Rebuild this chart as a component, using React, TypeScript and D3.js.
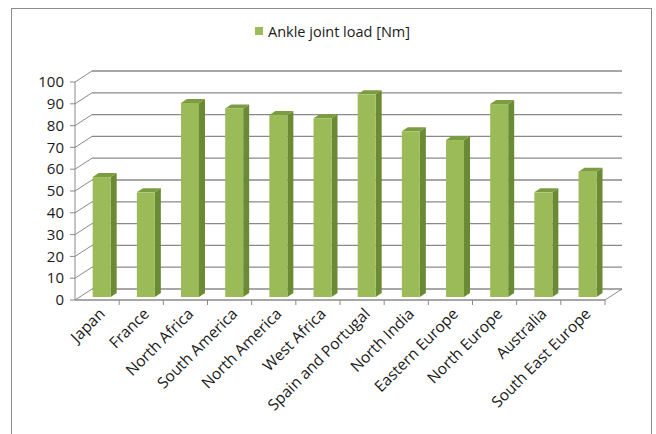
import React from "react";
import * as d3 from "d3";

const categories = [
  "Japan", "France", "North Africa", "South America", "North America", "West Africa",
  "Spain and Portugal", "North India", "Eastern Europe", "North Europe", "Australia", "South East Europe",
];
const values = [55, 48, 89, 86.5, 83.5, 82, 93, 76, 72, 88.5, 48, 57.5];
const yTicks = [0, 10, 20, 30, 40, 50, 60, 70, 80, 90, 100];
const seriesName = "Ankle joint load [Nm]";

const W = 656, H = 434;
const FONT = "'Open Sans', 'Liberation Sans', sans-serif";
const DX = 17, DY = -11; // depth projection of the plot
const BDX = 6, BDY = -4; // bar depth
const SHX = 4.6, SHY = -3; // bar placement depth shift
const BAR_W = 18;

export default function App() {
  const x = d3.scaleBand<string>().domain(categories).range([75, 605]).paddingInner(0).paddingOuter(0);
  const y = d3.scaleLinear().domain([0, 100]).range([300, 82]);
  const x0 = 75, x1 = 605, y0 = y(0);
  const grid = "#8a8a8a";

  return (
    <svg width={W} height={H} style={{ position: "fixed", left: 0, top: 0, background: "#fff" }}>
      <rect x={11.5} y={8.5} width={640} height={440} fill="#fff" stroke="#8c8c8c" strokeWidth={1} />
      {/* legend */}
      <rect x={255} y={27} width={8} height={8} fill="#9bbb59" />
      <text x={268} y={36.5} fontFamily={FONT} fontSize={14.5} fill="#1a1a1a">{seriesName}</text>

      {/* back wall gridlines + left wall diagonals */}
      {yTicks.map((t) => (
        <g key={t}>
          <line x1={x0 + DX} x2={x1 + DX} y1={y(t) + DY} y2={y(t) + DY} stroke={grid} strokeWidth={1.3} />
          <line x1={x0} x2={x0 + DX} y1={y(t)} y2={y(t) + DY} stroke={grid} strokeWidth={1} />
          <line x1={x0 - 5} x2={x0} y1={y(t)} y2={y(t)} stroke={grid} strokeWidth={1} />
          <text x={64} y={y(t)} dy="0.35em" textAnchor="end" fontFamily={FONT} fontSize={15} fill="#1a1a1a">{t}</text>
        </g>
      ))}
      {/* floor */}
      <line x1={x1} x2={x1 + DX} y1={y0} y2={y0 + DY} stroke={grid} strokeWidth={1} />
      <line x1={x0} x2={x0} y1={y(100)} y2={y0} stroke={grid} strokeWidth={1} />
      <line x1={x0} x2={x1} y1={y0} y2={y0} stroke={grid} strokeWidth={1.3} />
      {categories.map((c) => (
        <line key={"t" + c} x1={(x(c) as number) + x.bandwidth()} x2={(x(c) as number) + x.bandwidth()} y1={y0} y2={y0 + 5} stroke={grid} strokeWidth={1} />
      ))}

      {/* bars */}
      {categories.map((c, i) => {
        const cx = (x(c) as number) + x.bandwidth() / 2;
        const l = cx - BAR_W / 2 + SHX;
        const r = l + BAR_W;
        const b = y0 + SHY;
        const t = y(values[i]) + SHY;
        return (
          <g key={c}>
            <polygon points={`${r},${b} ${r + BDX},${b + BDY} ${r + BDX},${t + BDY} ${r},${t}`} fill="#6a8a34" />
            <polygon points={`${l},${t} ${r},${t} ${r + BDX},${t + BDY} ${l + BDX},${t + BDY}`} fill="#7c9c42" />
            <rect x={l} y={t} width={BAR_W} height={b - t} fill="#9bbb59" />
          </g>
        );
      })}

      {/* category labels */}
      {categories.map((c) => {
        const cx = (x(c) as number) + x.bandwidth() / 2 + 5;
        const ty = y0 + 11;
        return (
          <text key={"l" + c} x={cx} y={ty} textAnchor="end" fontFamily={FONT} fontSize={15.5} fill="#1a1a1a"
            transform={`rotate(-45 ${cx} ${ty})`} dy="0.35em">{c}</text>
        );
      })}
    </svg>
  );
}
